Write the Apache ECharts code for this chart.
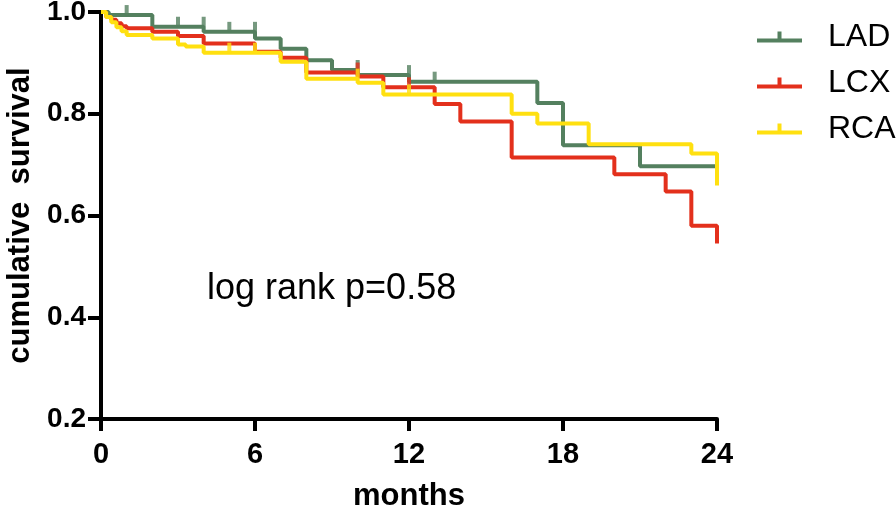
<!DOCTYPE html>
<html>
<head>
<meta charset="utf-8">
<script src="https://cdn.jsdelivr.net/npm/echarts@6/dist/echarts.min.js"></script>
<style>
  html, body { margin: 0; padding: 0; background: #fff; }
  #chart { width: 896px; height: 506px; }
</style>
</head>
<body>
<div id="chart"></div>
<script>
// survival steps (months, cumulative survival)
var ladTime = [0, 0.3, 2, 4, 6, 7, 8, 9, 10, 12, 17, 18, 21, 24]
var ladSurv = [1.0, 0.994, 0.971, 0.961, 0.948, 0.928, 0.905, 0.886, 0.876, 0.863, 0.821, 0.738, 0.697, 0.697]
var ladCensor = [1, 3, 4, 5, 6, 10, 12, 13]

var lcxTime = [0, 0.2, 0.4, 0.6, 0.8, 1, 2, 3, 4, 6, 7, 8, 10, 11, 13, 14, 16, 20, 22, 23, 24]
var lcxSurv = [1.0, 0.99, 0.985, 0.978, 0.972, 0.968, 0.961, 0.953, 0.938, 0.922, 0.91, 0.881, 0.873, 0.852, 0.819, 0.785, 0.714, 0.681, 0.647, 0.58, 0.545]
var lcxCensor = [10, 12]

var rcaTime = [0, 0.2, 0.4, 0.6, 0.8, 1, 2, 3, 3.3, 4, 7, 8, 10, 11, 16, 17, 19, 23, 24]
var rcaSurv = [1.0, 0.99, 0.98, 0.97, 0.962, 0.955, 0.948, 0.936, 0.932, 0.92, 0.902, 0.869, 0.861, 0.838, 0.8, 0.781, 0.74, 0.722, 0.659]
var rcaCensor = [5, 6, 10, 12]

var groups = ['LAD', 'LCX', 'RCA']
var colors = ['#54805f', '#e3301c', '#ffe010']
var xTicks = [0, 6, 12, 18, 24]
var yTicks = [0.2, 0.4, 0.6, 0.8, 1.0]
var note = 'log rank p=0.58'

var FONT = '"Liberation Sans", Arial, Helvetica, sans-serif'

function pairs(t, s) {
  return t.map(function (v, i) { return [v, s[i]] })
}

// censor tick sits on the level just before that time
function censorPoints(censor, t, s) {
  return censor.map(function (c) {
    var val = s[0]
    for (var i = 0; i < t.length; i++) {
      if (t[i] < c) val = s[i]
    }
    return [c, val]
  })
}

var stepData = [pairs(ladTime, ladSurv), pairs(lcxTime, lcxSurv), pairs(rcaTime, rcaSurv)]
var censorData = [
  censorPoints(ladCensor, ladTime, ladSurv),
  censorPoints(lcxCensor, lcxTime, lcxSurv),
  censorPoints(rcaCensor, rcaTime, rcaSurv)
]

var series = []
groups.forEach(function (name, i) {
  series.push({
    name: name,
    type: 'line',
    step: 'end',
    symbol: 'none',
    data: stepData[i],
    lineStyle: { color: colors[i], width: 4 },
    itemStyle: { color: colors[i] },
    z: 2 + i
  })
  series.push({
    name: name + ' censored',
    type: 'scatter',
    symbol: 'rect',
    symbolSize: [4, 10],
    symbolOffset: [0, -5],
    data: censorData[i],
    itemStyle: { color: colors[i] },
    z: 2 + i
  })
})

var chart = echarts.init(document.getElementById('chart'))
chart.setOption({
  animation: false,
  textStyle: { fontFamily: FONT },
  grid: { left: 101, right: 179, top: 12, bottom: 87, containLabel: false, outerBoundsMode: 'none' },
  legend: {
    data: groups.map(function (g) {
      return { name: g, icon: 'path://M0,7 L45,7 L45,11 L0,11 Z M20.5,0 L24.5,0 L24.5,7 L20.5,7 Z' }
    }),
    orient: 'vertical',
    left: 757,
    top: 21,
    padding: 0,
    itemWidth: 45,
    itemHeight: 11,
    itemGap: 14,
    selectedMode: false,
    textStyle: { fontSize: 32, color: '#000', fontFamily: FONT, lineHeight: 32, padding: [0, 0, 0, 21] }
  },
  graphic: [{
    type: 'text',
    left: 207,
    top: 271,
    style: { text: note, font: '36px ' + FONT, fill: '#000' }
  }],
  xAxis: {
    type: 'value',
    min: 0,
    max: 24,
    interval: 6,
    name: 'months',
    nameLocation: 'middle',
    nameGap: 62,
    nameTextStyle: { fontSize: 31, fontWeight: 'bold', color: '#000', fontFamily: FONT },
    axisLine: { onZero: false, lineStyle: { color: '#000', width: 4 } },
    axisTick: { length: 12, lineStyle: { color: '#000', width: 4 } },
    axisLabel: {
      margin: 21,
      fontSize: 29,
      fontWeight: 'bold',
      color: '#000',
      fontFamily: FONT,
      formatter: function (v) { return xTicks.indexOf(v) >= 0 ? String(v) : '' }
    },
    splitLine: { show: false }
  },
  yAxis: {
    type: 'value',
    min: 0.2,
    max: 1.0,
    interval: 0.2,
    name: 'cumulative  survival',
    nameLocation: 'middle',
    nameGap: 63,
    nameTextStyle: { fontSize: 31, fontWeight: 'bold', color: '#000', fontFamily: FONT },
    axisLine: { show: true, onZero: false, lineStyle: { color: '#000', width: 4 } },
    axisTick: { show: true, length: 13, lineStyle: { color: '#000', width: 4 } },
    axisLabel: {
      margin: 15,
      fontSize: 28,
      fontWeight: 'bold',
      color: '#000',
      fontFamily: FONT,
      formatter: function (v) {
        for (var i = 0; i < yTicks.length; i++) {
          if (Math.abs(yTicks[i] - v) < 1e-6) return yTicks[i].toFixed(1)
        }
        return ''
      }
    },
    splitLine: { show: false }
  },
  series: series
})
</script>
</body>
</html>
